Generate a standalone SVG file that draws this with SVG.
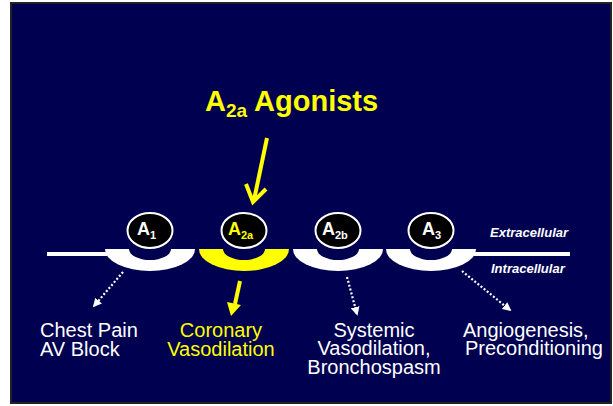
<svg xmlns="http://www.w3.org/2000/svg" width="613" height="406" viewBox="0 0 613 406">
<defs>
<style>
.t{font-family:"Liberation Sans",Arial,sans-serif;}
.lbl{font-family:"Liberation Sans",Arial,sans-serif;font-size:20px;fill:#fff;}
.yl{fill:#ffff00;}
.rc{fill:#000;stroke:#fff;stroke-width:2;}
.ra{font-family:"Liberation Sans",Arial,sans-serif;font-size:18px;font-weight:bold;fill:#fff;}
.sub{font-size:11px;}
.dot{stroke:#fff;stroke-width:2.2;stroke-dasharray:2 2;fill:none;}
.mem{font-family:"Liberation Sans",Arial,sans-serif;font-size:13px;font-weight:bold;font-style:italic;fill:#fff;}
</style>
<marker id="wh" viewBox="0 0 10 10" refX="8" refY="5" markerWidth="4" markerHeight="4" orient="auto" markerUnits="strokeWidth">
<path d="M0,0 L10,5 L0,10 Z" fill="#fff"/>
</marker>
</defs>
<rect x="0" y="0" width="613" height="406" fill="#fff"/>
<rect x="11" y="3" width="600" height="400" fill="#000050" stroke="#222" stroke-width="2"/>

<text id="title" class="t" x="205" y="111" font-size="29" font-weight="bold" fill="#ffff00">A<tspan font-size="19" dy="6">2a</tspan><tspan dy="-6"> Agonists</tspan></text>

<g id="membrane">
<rect x="47" y="252" width="60" height="4" fill="#fff"/>
<rect x="474" y="252" width="96" height="4" fill="#fff"/>
<text class="mem" x="490" y="237">Extracellular</text>
<text class="mem" x="491" y="273">Intracellular</text>
</g>

<g id="A1">
<path d="M105,249 A45,22 0 0 0 195,249 Z" fill="#fff"/>
<path d="M129,249 A21,11 0 0 0 171,249 Z" fill="#000050"/>
<ellipse class="rc" cx="150" cy="230.5" rx="22.5" ry="17.5"/>
<text class="ra" x="137" y="235">A<tspan class="sub" dy="4">1</tspan></text>
</g>
<g id="A2a">
<path d="M199,249 A45,22 0 0 0 289,249 Z" fill="#ffff00"/>
<path d="M223,249 A21,11 0 0 0 265,249 Z" fill="#000050"/>
<ellipse class="rc" cx="244" cy="230.5" rx="22.5" ry="17.5"/>
<text class="ra" x="228" y="235" style="fill:#ffff00">A<tspan class="sub" dy="4">2a</tspan></text>
</g>
<g id="A2b">
<path d="M293,249 A45,22 0 0 0 383,249 Z" fill="#fff"/>
<path d="M317,249 A21,11 0 0 0 359,249 Z" fill="#000050"/>
<ellipse class="rc" cx="338" cy="230.5" rx="22.5" ry="17.5"/>
<text class="ra" x="322" y="235">A<tspan class="sub" dy="4">2b</tspan></text>
</g>
<g id="A3">
<path d="M386,249 A45,22 0 0 0 476,249 Z" fill="#fff"/>
<path d="M410,249 A21,11 0 0 0 452,249 Z" fill="#000050"/>
<ellipse class="rc" cx="431" cy="230.5" rx="22.5" ry="17.5"/>
<text class="ra" x="422" y="235">A<tspan class="sub" dy="4">3</tspan></text>
</g>

<g id="connectors">
<line x1="267" y1="138" x2="254" y2="200" stroke="#ffff00" stroke-width="4"/>
<polyline points="246,184 253,202 266,189" fill="none" stroke="#ffff00" stroke-width="4" stroke-linejoin="miter"/>
<line x1="240" y1="281" x2="235" y2="304" stroke="#ffff00" stroke-width="4"/>
<path d="M227,302 L241,305 L231,316 Z" fill="#ffff00"/>
<line class="dot" x1="123" y1="272" x2="94" y2="306" marker-end="url(#wh)"/>
<line class="dot" x1="347" y1="277" x2="357" y2="314" marker-end="url(#wh)"/>
<line class="dot" x1="462" y1="271" x2="510" y2="310" marker-end="url(#wh)"/>
</g>

<g id="labels">
<text class="lbl" x="40" y="337">Chest Pain</text>
<text class="lbl" x="40" y="356">AV Block</text>
<text class="lbl yl" x="221" y="337" text-anchor="middle" style="fill:#ffff00">Coronary</text>
<text class="lbl yl" x="221" y="356" text-anchor="middle" style="fill:#ffff00">Vasodilation</text>
<text class="lbl" x="374" y="337" text-anchor="middle">Systemic</text>
<text class="lbl" x="374" y="355" text-anchor="middle">Vasodilation,</text>
<text class="lbl" x="374" y="374" text-anchor="middle">Bronchospasm</text>
<text class="lbl" x="463" y="337">Angiogenesis,</text>
<text class="lbl" x="465" y="355">Preconditioning</text>
</g>
</svg>
